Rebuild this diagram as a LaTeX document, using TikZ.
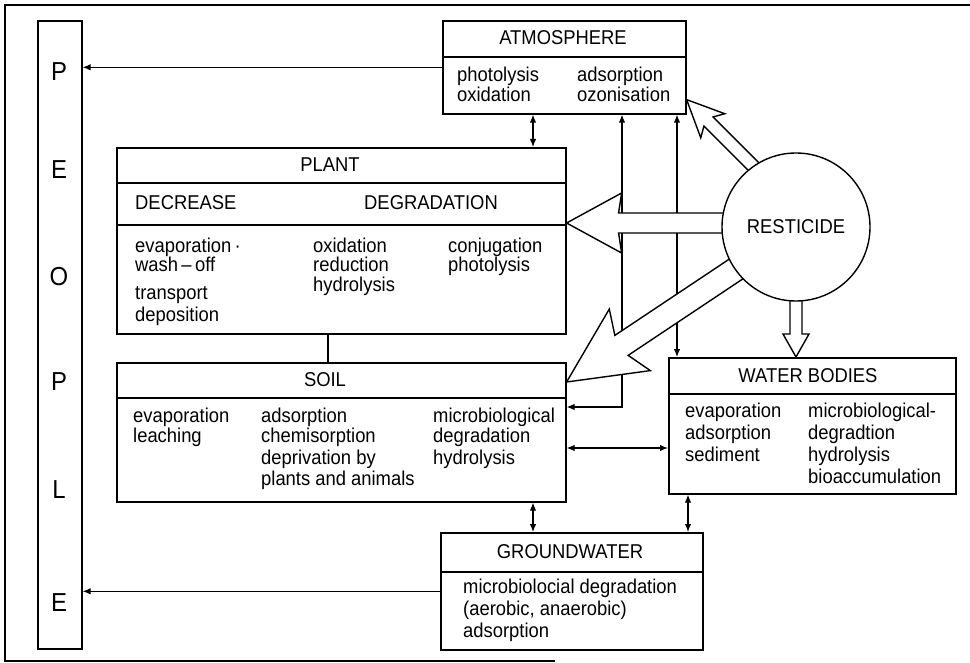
\documentclass[tikz,border=0pt]{standalone}
\usepackage{fontspec}
\setmainfont{Liberation Sans}[FakeStretch=0.92]
\usetikzlibrary{arrows.meta}
% horizontal rule across a box, #2 pt below its top edge
\newcommand\splitbox[2]{\draw[line width=1.6pt] ([yshift=-#2pt]#1.north west) -- ([yshift=-#2pt]#1.north east);}
% hollow block arrow with its tip at the local origin, pointing along -x
% #1 shaft length, #2 shaft half width, #3 neck position, #4 barb position, #5 barb half width
\newcommand\hollowarrow[5]{\draw[hollow] (0,0) -- (#4,#5) -- (#3,#2) -- (#1,#2) -- (#1,-#2) -- (#3,-#2) -- (#4,-#5) -- cycle;}
\begin{document}
\begin{tikzpicture}[x=1pt,y=-1pt,
  box/.style={draw,line width=1.6pt,inner sep=0pt,anchor=north west},
  conn/.style={line width=1.2pt},
  hollow/.style={draw,fill=white,line width=1.4pt,line join=miter},
  txt/.style={inner sep=0pt,anchor=base west,font=\fontsize{20}{22}\selectfont},
  ttl/.style={inner sep=0pt,font=\fontsize{20}{22}\selectfont},
  ppl/.style={inner sep=0pt,font=\fontsize{26}{28}\selectfont},
  >={Latex[length=8pt,width=6.5pt]}]
\useasboundingbox (0,0) rectangle (970,663);

% outer frame
\draw[line width=1.8pt] (970,5) -- (5,5) -- (5,661) -- (555,661);

% boxes
\node[box,minimum width=44pt,minimum height=628pt] (people) at (37,20) {};
\node[box,minimum width=243pt,minimum height=93pt] (atm) at (442,20) {};
\node[box,minimum width=449pt,minimum height=186pt] (plant) at (116,147) {};
\node[box,minimum width=449pt,minimum height=139pt] (soil) at (116,362) {};
\node[box,minimum width=287pt,minimum height=136pt] (water) at (668,357) {};
\node[box,minimum width=262pt,minimum height=117pt] (gw) at (440,532) {};
\splitbox{atm}{37}
\splitbox{plant}{36}
\splitbox{plant}{78}
\splitbox{soil}{36}
\splitbox{water}{37}
\splitbox{gw}{40}

% PEOPLE column
\node[ppl] (p1) at (59,72) {P};
\node[ppl] (p2) at (59,170) {E};
\node[ppl] (p3) at (59,277) {O};
\node[ppl] (p4) at (59,382) {P};
\node[ppl] (p5) at (59,490) {L};
\node[ppl] (p6) at (59,603) {E};

% ATMOSPHERE
\node[ttl] (atmT) at (563,38) {ATMOSPHERE};
\node[txt] (atm1) at (457,82) {photolysis};
\node[txt] (atm2) at (457,102) {oxidation};
\node[txt] (atm3) at (577,82) {adsorption};
\node[txt] (atm4) at (577,102) {ozonisation};

% PLANT
\node[ttl] (plantT) at (330,165) {PLANT};
\node[ttl,anchor=west] (plantD) at (135,203) {DECREASE};
\node[ttl] (plantG) at (431,203) {DEGRADATION};
\node[txt] (pl1) at (135,253) {evaporation\,·};
\node[txt] (pl2) at (135,272) {wash\,--\,off};
\node[txt] (pl3) at (135,300) {transport};
\node[txt] (pl4) at (135,322) {deposition};
\node[txt] (pl5) at (313,253) {oxidation};
\node[txt] (pl6) at (313,272) {reduction};
\node[txt] (pl7) at (313,292) {hydrolysis};
\node[txt] (pl8) at (448,253) {conjugation};
\node[txt] (pl9) at (448,272) {photolysis};

% SOIL
\node[ttl] (soilT) at (325,380) {SOIL};
\node[txt] (so1) at (133,422) {evaporation};
\node[txt] (so2) at (133,442) {leaching};
\node[txt] (so3) at (261,422) {adsorption};
\node[txt] (so4) at (261,442) {chemisorption};
\node[txt] (so5) at (261,464) {deprivation by};
\node[txt] (so6) at (261,485) {plants and animals};
\node[txt] (so7) at (433,422) {microbiological};
\node[txt] (so8) at (433,442) {degradation};
\node[txt] (so9) at (433,464) {hydrolysis};

% WATER BODIES
\node[ttl] (waterT) at (808,376) {WATER BODIES};
\node[txt] (wa1) at (685,417) {evaporation};
\node[txt] (wa2) at (685,439) {adsorption};
\node[txt] (wa3) at (685,461) {sediment};
\node[txt] (wa4) at (808,417) {microbiological-};
\node[txt] (wa5) at (808,439) {degradtion};
\node[txt] (wa6) at (808,461) {hydrolysis};
\node[txt] (wa7) at (808,483) {bioaccumulation};

% GROUNDWATER
\node[ttl] (gwT) at (570,552) {GROUNDWATER};
\node[txt] (gw1) at (463,593) {microbiolocial degradation};
\node[txt] (gw2) at (463,615) {(aerobic, anaerobic)};
\node[txt] (gw3) at (463,637) {adsorption};

% routing guides
\coordinate (cA) at (533,0);
\coordinate (cP) at (328,0);
\coordinate (cB) at (622,0);
\coordinate (cC) at (677,0);
\coordinate (cD) at (688,0);
\coordinate (cS) at (0,407);
\coordinate (cW) at (0,448);
\coordinate (resc) at (796,227);

% thin connectors
\draw[conn,->] (atm.west) -- (atm.west -| people.east);
\draw[conn,->] (gw.west) -- (gw.west -| people.east);
\draw[conn,<->] (atm.south -| cA) -- (plant.north -| cA);
\draw[conn] (plant.south -| cP) -- (soil.north -| cP);
\draw[conn,<->] (atm.south -| cB) |- (soil.east |- cS);
\draw[conn,<->] (atm.south -| cC) -- (water.north -| cC);
\draw[conn,<->] (soil.east |- cW) -- (water.west |- cW);
\draw[conn,<->] (soil.south -| cA) -- (gw.north -| cA);
\draw[conn,<->] (water.south -| cD) -- (gw.north -| cD);

% block arrows leaving the pesticide source
\coordinate (tipPlant) at ([yshift=-76pt]plant.north east);
\coordinate (tipAtm) at ([yshift=15pt]atm.south east);
\coordinate (tipSoil) at ([yshift=-20pt]soil.north east);
\coordinate (tipWater) at (water.north -| resc);
\begin{scope}[shift={(tipPlant)}]
  \hollowarrow{230}{10}{52}{55}{30}
\end{scope}
\begin{scope}[shift={(tipAtm)},rotate=-45]
  \hollowarrow{110}{6.5}{31}{37}{17}
\end{scope}
\begin{scope}[shift={(tipSoil)},rotate=33.7]
  \hollowarrow{270}{12}{66}{76}{37}
\end{scope}
\begin{scope}[shift={(tipWater)},rotate=90]
  \hollowarrow{70}{6}{23}{23}{13}
\end{scope}

% pesticide source
\node[draw,circle,fill=white,line width=1.4pt,inner sep=0pt,minimum size=148pt,
      font=\fontsize{20}{22}\selectfont] (res) at (resc) {RESTICIDE};
\end{tikzpicture}
\end{document}
